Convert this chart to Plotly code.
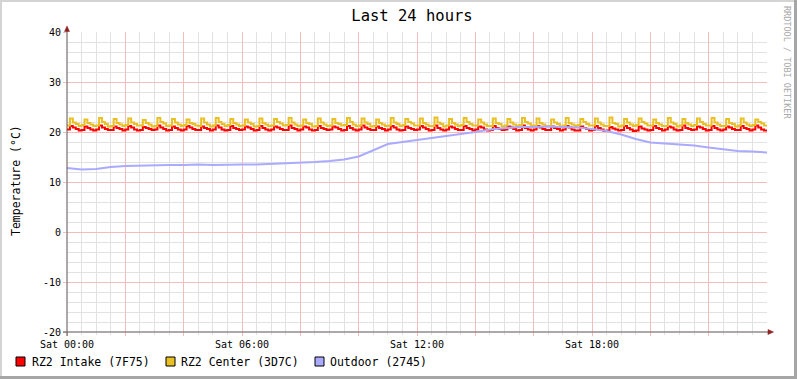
import plotly.graph_objects as go
import pandas as pd

# ---------------- data ----------------
START = "2021-01-02 00:00"   # a Saturday
END = "2021-01-03 00:00"

x_tick_labels = ["Sat 00:00", "", "", "Sat 06:00", "", "", "Sat 12:00", "", "", "Sat 18:00", "", ""]
y_ticks = [-20, -10, 0, 10, 20, 30, 40]
y_tick_labels = ["-20", "-10", "0", "10", "20", "30", "40"]

series_names = ["RZ2 Intake (7F75)", "RZ2 Center (3D7C)", "Outdoor (2745)"]

# indoor sensors: one sample every 6 minutes (5 samples per ~30 min thermostat cycle)
intake = [
    20.5, 21.2, 20.9, 20.6, 20.3,
    20.4, 21.1, 20.8, 20.5, 20.3,
    20.5, 21.3, 20.9, 20.6, 20.4,
    20.4, 21.1, 20.8, 20.6, 20.3,
    20.5, 21.2, 20.9, 20.5, 20.3,
    20.4, 21.0, 20.8, 20.6, 20.4,
    20.5, 21.3, 20.9, 20.6, 20.3,
    20.4, 21.1, 20.8, 20.5, 20.3,
    20.5, 21.2, 20.9, 20.6, 20.4,
    20.4, 21.1, 20.8, 20.6, 20.3,
    20.5, 21.3, 20.9, 20.5, 20.3,
    20.4, 21.2, 20.8, 20.6, 20.4,
    20.5, 21.1, 20.9, 20.6, 20.3,
    20.4, 21.2, 20.8, 20.5, 20.3,
    20.5, 21.1, 20.9, 20.6, 20.4,
    20.4, 21.3, 20.8, 20.6, 20.3,
    20.5, 21.1, 20.9, 20.5, 20.3,
    20.4, 21.2, 20.8, 20.6, 20.4,
    20.5, 21.1, 20.9, 20.6, 20.3,
    20.4, 21.2, 20.8, 20.5, 20.3,
    20.5, 21.3, 20.9, 20.6, 20.4,
    20.4, 21.1, 20.8, 20.6, 20.3,
    20.5, 21.2, 20.9, 20.5, 20.3,
    20.4, 21.1, 20.8, 20.6, 20.4,
    20.5, 21.2, 20.9, 20.6, 20.3,
    20.4, 21.3, 20.8, 20.5, 20.3,
    20.5, 21.1, 20.9, 20.6, 20.4,
    20.4, 21.2, 20.8, 20.6, 20.3,
    20.5, 21.1, 20.9, 20.5, 20.3,
    20.4, 21.2, 20.8, 20.6, 20.4,
    20.5, 21.1, 20.9, 20.6, 20.3,
    20.4, 21.3, 20.8, 20.5, 20.3,
    20.5, 21.2, 20.9, 20.6, 20.4,
    20.4, 21.1, 20.8, 20.6, 20.3,
    20.5, 21.2, 20.9, 20.5, 20.3,
    20.3, 21.1, 20.8, 20.6, 20.3,
    20.4, 21.2, 20.8, 20.5, 20.2,
    20.3, 21.0, 20.7, 20.5, 20.3,
    20.4, 21.2, 20.8, 20.5, 20.2,
    20.3, 21.1, 20.7, 20.5, 20.3,
    20.4, 21.2, 20.8, 20.6, 20.3,
    20.5, 21.1, 20.9, 20.5, 20.3,
    20.4, 21.3, 20.8, 20.6, 20.4,
    20.5, 21.1, 20.9, 20.6, 20.3,
    20.4, 21.2, 20.8, 20.5, 20.3,
    20.5, 21.1, 20.9, 20.6, 20.4,
    20.4, 21.2, 20.8, 20.6, 20.3,
    20.5, 21.3, 20.9, 20.5, 20.3,
    20.4,
]

center = [
    21.3, 22.7, 21.9, 21.6, 21.2,
    21.4, 22.5, 21.8, 21.5, 21.2,
    21.3, 22.8, 22.0, 21.6, 21.1,
    21.2, 22.6, 21.8, 21.5, 21.2,
    21.4, 22.7, 21.9, 21.6, 21.3,
    21.3, 22.4, 21.8, 21.5, 21.1,
    21.2, 22.8, 22.0, 21.7, 21.2,
    21.3, 22.6, 21.9, 21.5, 21.2,
    21.4, 22.5, 21.8, 21.6, 21.3,
    21.2, 22.7, 21.9, 21.5, 21.1,
    21.3, 22.8, 22.0, 21.6, 21.2,
    21.4, 22.6, 21.8, 21.5, 21.2,
    21.3, 22.5, 21.9, 21.6, 21.1,
    21.2, 22.7, 21.8, 21.5, 21.2,
    21.3, 22.6, 22.0, 21.7, 21.3,
    21.4, 22.8, 21.9, 21.5, 21.2,
    21.3, 22.5, 21.8, 21.6, 21.1,
    21.2, 22.7, 21.9, 21.5, 21.2,
    21.3, 22.6, 21.8, 21.6, 21.3,
    21.4, 22.8, 22.0, 21.5, 21.2,
    21.3, 22.7, 21.9, 21.6, 21.1,
    21.2, 22.5, 21.8, 21.5, 21.2,
    21.3, 22.8, 21.9, 21.6, 21.2,
    21.4, 22.6, 22.0, 21.7, 21.3,
    21.3, 22.7, 21.8, 21.5, 21.2,
    21.2, 22.9, 21.9, 21.6, 21.1,
    21.3, 22.6, 21.8, 21.5, 21.2,
    21.4, 22.8, 22.0, 21.6, 21.3,
    21.3, 22.5, 21.9, 21.5, 21.2,
    21.2, 22.7, 21.8, 21.6, 21.1,
    21.3, 22.6, 21.9, 21.5, 21.2,
    21.4, 22.8, 22.0, 21.7, 21.3,
    21.3, 22.7, 21.8, 21.5, 21.2,
    21.2, 22.5, 21.9, 21.6, 21.1,
    21.3, 22.8, 21.8, 21.5, 21.2,
    21.4, 22.6, 22.0, 21.6, 21.3,
    21.3, 22.7, 21.9, 21.5, 21.2,
    21.2, 22.9, 21.8, 21.6, 21.1,
    21.3, 22.6, 21.9, 21.5, 21.2,
    21.4, 22.7, 22.0, 21.7, 21.3,
    21.3, 22.5, 21.8, 21.5, 21.2,
    21.2, 22.8, 21.9, 21.6, 21.1,
    21.3, 22.6, 21.8, 21.5, 21.2,
    21.4, 22.7, 22.0, 21.6, 21.3,
    21.3, 22.8, 21.9, 21.5, 21.2,
    21.2, 22.6, 21.8, 21.6, 21.1,
    21.3, 22.7, 21.9, 21.5, 21.2,
    21.4, 22.5, 22.0, 21.7, 21.3,
    21.3,
]

# outdoor sensor: one sample every 30 minutes
outdoor = [
    12.8, 12.5, 12.6, 13.0, 13.2, 13.3, 13.4, 13.4, 13.4, 13.5,
    13.4, 13.5, 13.5, 13.5, 13.6, 13.7, 13.9, 14.0, 14.2, 14.5,
    15.1, 16.4, 17.6, 18.0, 18.4, 18.7, 19.2, 19.6, 20.0, 20.5,
    20.7, 21.0, 21.0, 21.1, 21.0, 20.9, 20.6, 20.2, 19.5, 18.6,
    17.9, 17.7, 17.5, 17.3, 16.9, 16.5, 16.2, 16.1, 15.9,
]

t_indoor = pd.date_range(START, END, freq="6min")
t_outdoor = pd.date_range(START, END, freq="30min")
x_tick_vals = pd.date_range(START, "2021-01-02 22:00", freq="2h")

# ---------------- style ----------------
W, H = 797, 379
L, R, T, B = 67, 30, 32, 47
PW, PH = W - L - R, H - T - B
FONT = "DejaVu Sans Mono"
MGRID = "#F4BDBD"
GRID = "#E2E2E2"
AXIS = "#5E5050"
ARROW = "#8E2020"
COLORS = ["#FF0000", "#E9C021", "#AAAAFF"]


def px(x):
    return (x - L) / PW


def py(y):
    return (H - B - y) / PH


fig = go.Figure()
for name, xs, ys, col, shape in [
    (series_names[0], t_indoor, intake, COLORS[0], "hv"),
    (series_names[1], t_indoor, center, COLORS[1], "hv"),
    (series_names[2], t_outdoor, outdoor, COLORS[2], "linear"),
]:
    fig.add_trace(go.Scatter(x=xs, y=ys, mode="lines", name=name,
                             line=dict(color=col, width=2, shape=shape), showlegend=False))

shapes = []
# axis extensions and arrows
shapes.append(dict(type="line", xref="paper", yref="paper", x0=0, x1=0,
                   y0=py(336), y1=py(30), line=dict(color=AXIS, width=1)))
shapes.append(dict(type="line", xref="paper", yref="paper", x0=px(63), x1=px(770),
                   y0=0, y1=0, line=dict(color=AXIS, width=1)))
shapes.append(dict(type="path", xref="paper", yref="paper",
                   path=f"M {px(64.5)} {py(31.5)} L {px(69.5)} {py(31.5)} L {px(67)} {py(26)} Z",
                   fillcolor=ARROW, line=dict(color=ARROW, width=0.5)))
shapes.append(dict(type="path", xref="paper", yref="paper",
                   path=f"M {px(768)} {py(329.5)} L {px(768)} {py(334.5)} L {px(773.5)} {py(332)} Z",
                   fillcolor=ARROW, line=dict(color=ARROW, width=0.5)))
# 3D frame
shapes.append(dict(type="rect", xref="paper", yref="paper", x0=px(0), x1=px(2), y0=py(379), y1=py(0),
                   fillcolor="#D4D4D4", line=dict(width=0)))
shapes.append(dict(type="rect", xref="paper", yref="paper", x0=px(0), x1=px(797), y0=py(2), y1=py(0),
                   fillcolor="#D4D4D4", line=dict(width=0)))
shapes.append(dict(type="rect", xref="paper", yref="paper", x0=px(794), x1=px(797), y0=py(379), y1=py(0),
                   fillcolor="#A6A6A6", line=dict(width=0)))
shapes.append(dict(type="rect", xref="paper", yref="paper", x0=px(0), x1=px(797), y0=py(379), y1=py(376),
                   fillcolor="#A6A6A6", line=dict(width=0)))

annotations = []
# legend
legend_box_x = [16, 166, 315]
legend_text_x = [30, 179, 328]
for name, col, bx, tx in zip(series_names, COLORS, legend_box_x, legend_text_x):
    shapes.append(dict(type="rect", xref="paper", yref="paper", x0=px(bx), x1=px(bx + 9),
                       y0=py(366), y1=py(357), fillcolor=col, line=dict(color="#000000", width=1)))
    annotations.append(dict(text=name, xref="paper", yref="paper", x=px(tx), y=py(361.5),
                            xanchor="left", yanchor="middle", showarrow=False,
                            font=dict(family=FONT, size=11.5, color="#000000")))

annotations.append(dict(text="Temperature (°C)", xref="paper", yref="paper", x=px(16), y=py(181),
                        textangle=-90, xanchor="center", yanchor="middle", showarrow=False,
                        font=dict(family=FONT, size=11.5, color="#000000")))
annotations.append(dict(text="RRDTOOL / TOBI OETIKER", xref="paper", yref="paper", x=px(787), y=py(63),
                        textangle=90, xanchor="center", yanchor="middle", showarrow=False,
                        font=dict(family=FONT, size=8.5, color="#A8A8A8")))

fig.update_layout(
    width=W, height=H,
    margin=dict(l=L, r=R, t=T, b=B, pad=0),
    paper_bgcolor="#FFFFFF", plot_bgcolor="#FFFFFF",
    title=dict(text="Last 24 hours", x=412 / W, xref="container", xanchor="center",
               y=1 - 16 / H, yref="container", yanchor="middle",
               font=dict(family=FONT, size=15.5, color="#000000")),
    showlegend=False,
    shapes=shapes,
    annotations=annotations,
    xaxis=dict(
        type="date", range=[START, END],
        tickmode="array", tickvals=x_tick_vals, ticktext=x_tick_labels,
        showgrid=True, gridcolor=MGRID, gridwidth=1,
        ticks="outside", ticklen=3, tickcolor=MGRID,
        minor=dict(tickmode="linear", tick0=START, dtick=1800000, showgrid=True,
                   gridcolor=GRID, ticks="outside", ticklen=2, tickcolor=GRID),
        showline=False, zeroline=False,
        tickfont=dict(family=FONT, size=10, color="#000000"),
    ),
    yaxis=dict(
        range=[-20, 40], tickmode="array", tickvals=y_ticks, ticktext=y_tick_labels,
        showgrid=True, gridcolor=MGRID, gridwidth=1,
        ticks="outside", ticklen=3, tickcolor=MGRID,
        minor=dict(tickmode="linear", tick0=0, dtick=2, showgrid=True, gridcolor=GRID),
        showline=False, zeroline=False,
        tickfont=dict(family=FONT, size=10, color="#000000"),
    ),
)

fig.write_html("out.html", config={"displayModeBar": False},
               post_script="document.body.style.margin='0';document.body.style.overflow='hidden';")
